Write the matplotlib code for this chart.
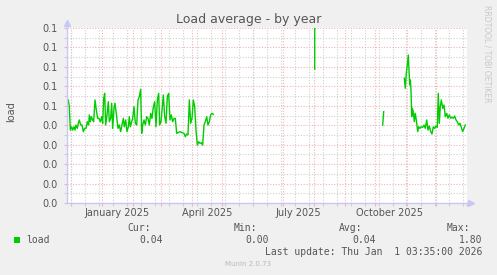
import matplotlib
matplotlib.use('Agg')
import matplotlib.pyplot as plt
import matplotlib.dates as mdates
from matplotlib.patches import Rectangle
import numpy as np
from datetime import datetime, timedelta

# ---------------- data ----------------
start = datetime(2024, 11, 27, 3, 35)
end = datetime(2026, 1, 1, 3, 35)

# days after `start`, load values
seg1_days = [0.33, 1.33, 2.33, 3.33, 4.67, 5.67, 7, 8, 9, 10.33, 11.33, 12.33, 13.67, 15, 16.33,
             17.67, 19, 20.33, 21.67, 22.33, 23.33, 24.33, 25.67, 26.67, 28, 29.33, 30.67, 32,
             33.33, 34.67, 35.67, 36.67, 37.67, 38.67, 40, 41.33, 42.33, 43.67, 44.67, 45.67, 47,
             48, 49.67, 51, 52.33, 53.67, 55, 56.33, 57.33, 58.67, 60, 61.33, 62.33, 63.33, 64.67,
             65.67, 67, 68.33, 69.67, 71, 72.33, 73.67, 74.67, 75.67, 77, 78.33, 79.67, 81, 82.33,
             83.67, 85, 86.33, 87.67, 89, 90.33, 91.67, 92.67, 94, 95, 96.33, 97.67, 99, 100.33,
             101.67, 103, 104.33, 105.67, 107, 108.33, 109.67, 111, 113, 115, 117, 118.33, 119.67,
             121, 122.33, 123.67, 125, 126.33, 127.67, 129, 130.33, 131.67, 133, 134.33, 135.67,
             137, 138.33, 139.67, 141, 142.33, 143.67, 145, 146.33]
seg1_load = [0.0513, 0.0530, 0.0495, 0.0375, 0.0392, 0.0375, 0.0392, 0.0375, 0.0401, 0.0384,
             0.0410, 0.0427, 0.0401, 0.0401, 0.0367, 0.0384, 0.0384, 0.0418, 0.0401, 0.0453,
             0.0418, 0.0444, 0.0427, 0.0418, 0.0530, 0.0478, 0.0435, 0.0435, 0.0418, 0.0444,
             0.0410, 0.0538, 0.0564, 0.0401, 0.0453, 0.0521, 0.0418, 0.0435, 0.0513, 0.0384,
             0.0487, 0.0513, 0.0444, 0.0384, 0.0401, 0.0367, 0.0401, 0.0435, 0.0392, 0.0427,
             0.0367, 0.0392, 0.0444, 0.0392, 0.0418, 0.0435, 0.0495, 0.0410, 0.0401, 0.0530,
             0.0547, 0.0585, 0.0358, 0.0401, 0.0427, 0.0401, 0.0444, 0.0435, 0.0401, 0.0461,
             0.0435, 0.0495, 0.0521, 0.0392, 0.0530, 0.0564, 0.0401, 0.0418, 0.0478, 0.0555,
             0.0444, 0.0410, 0.0547, 0.0564, 0.0427, 0.0453, 0.0418, 0.0435, 0.0435, 0.0358,
             0.0362, 0.0367, 0.0362, 0.0358, 0.0341, 0.0355, 0.0350, 0.0530, 0.0410, 0.0435,
             0.0530, 0.0495, 0.0375, 0.0298, 0.0315, 0.0307, 0.0310, 0.0298, 0.0401, 0.0418,
             0.0444, 0.0401, 0.0418, 0.0453, 0.0461, 0.0456]

seg2_days = [247.3, 247.7]
seg2_load = [1.80, 0.0688]

seg3_days = [315.7, 316.7]
seg3_load = [0.0401, 0.0470]

seg4_days = [337.3, 338.3, 339.3, 340.3, 341.3, 342, 342.7, 343.3, 344, 344.7, 345.3, 346.3,
             347.3, 348.3, 349.3, 350.7, 351.7, 353, 354.3, 355.7, 357, 358.3, 359.7, 361,
             362.3, 363.7, 365, 366.3, 367.7, 369, 370.3, 371.3, 372.3, 373.3, 374.3, 375.7,
             377, 378.3, 379.7, 381, 382.3, 383.7, 385, 386.3, 387.7, 389, 390.3, 391.7, 393,
             394.3, 395.7, 397, 398.3]
seg4_load = [0.0641, 0.0590, 0.0667, 0.0710, 0.0761, 0.0684, 0.0607, 0.0633, 0.0581, 0.0444,
             0.0487, 0.0470, 0.0418, 0.0461, 0.0427, 0.0367, 0.0392, 0.0384, 0.0392, 0.0389,
             0.0401, 0.0384, 0.0427, 0.0375, 0.0396, 0.0367, 0.0355, 0.0392, 0.0384, 0.0396,
             0.0389, 0.0564, 0.0410, 0.0495, 0.0530, 0.0487, 0.0504, 0.0444, 0.0461, 0.0436,
             0.0453, 0.0436, 0.0441, 0.0436, 0.0447, 0.0427, 0.0418, 0.0401, 0.0410, 0.0389,
             0.0367, 0.0384, 0.0401]

ytick_values = [0.00, 0.01, 0.02, 0.03, 0.04, 0.05, 0.06, 0.07, 0.08, 0.09]
ytick_labels = ['0.0', '0.0', '0.0', '0.0', '0.0', '0.1', '0.1', '0.1', '0.1', '0.1']
ymax = 0.09

xlabel_texts = ['January 2025', 'April 2025', 'July 2025', 'October 2025']
xlabel_dates = [datetime(2025, 1, 16), datetime(2025, 4, 16), datetime(2025, 7, 16), datetime(2025, 10, 16)]

title = 'Load average - by year'
ylabel = 'load'
series_name = 'load'
stat_names = ['Cur:', 'Min:', 'Avg:', 'Max:']
stat_values = ['0.04', '0.00', '0.04', '1.80']
last_update = 'Last update: Thu Jan  1 03:35:00 2026'
footer = 'Munin 2.0.73'
side_text = 'RRDTOOL / TOBI OETIKER'

# ---------------- build series ----------------
def to_dates(days):
    return [start + timedelta(days=d) for d in days]

xs, ys = [], []
for d, v in [(seg1_days, seg1_load), (seg2_days, seg2_load), (seg3_days, seg3_load), (seg4_days, seg4_load)]:
    xs += to_dates(d) + [start + timedelta(days=d[-1] + 0.5)]
    ys += list(v) + [np.nan]

# ---------------- figure ----------------
W, H = 497, 275
fig = plt.figure(figsize=(W / 100, H / 100), dpi=100)
fig.patch.set_facecolor('#f0f0f0')

L, R, T, B = 67, 467, 28, 203
ax = fig.add_axes([L / W, 1 - B / H, (R - L) / W, (B - T) / H])
ax.set_facecolor('white')

green = '#00cc00'
major_c = '#f0b4b4'
minor_c = '#cfcfcf'
axis_c = '#c8c8f8'
text_c = '#555555'

ax.plot(xs, ys, color=green, lw=1.0, zorder=3)

ax.set_xlim(start, end)
ax.set_ylim(0, ymax)

# x grid: months major, 14-day minor
ax.xaxis.set_major_locator(mdates.MonthLocator())
ax.xaxis.set_minor_locator(mdates.RRuleLocator(mdates.rrulewrapper(mdates.WEEKLY, interval=2,
                                                                   dtstart=datetime(2024, 12, 8))))
ax.xaxis.set_major_formatter(plt.NullFormatter())
ax.set_yticks(ytick_values, ytick_labels)
ax.set_yticks(np.arange(0.005, ymax, 0.01), minor=True)

ax.grid(which='major', color=major_c, lw=0.8, ls=(0, (1, 1.5)), zorder=1)
ax.grid(which='minor', color=minor_c, lw=0.8, ls=(0, (1, 1.5)), zorder=0)
ax.set_axisbelow(True)

ax.tick_params(axis='both', which='major', length=2, width=0.8, color=major_c,
               labelsize=7, labelcolor=text_c)
ax.tick_params(axis='both', which='minor', length=2, width=0.8, color=minor_c)
ax.tick_params(axis='y', which='major', pad=5)

for s in ['top', 'right', 'left', 'bottom']:
    ax.spines[s].set_visible(False)

# axis lines with arrows
ax.plot([0, 0], [0, 1.03], transform=ax.transAxes, color=axis_c, lw=1, clip_on=False, zorder=4)
ax.plot([0, 1.01], [0, 0], transform=ax.transAxes, color=axis_c, lw=1, clip_on=False, zorder=4)
ax.plot([0], [1.03], transform=ax.transAxes, marker='^', ms=4.5, color=axis_c, clip_on=False, zorder=4)
ax.plot([1.01], [0], transform=ax.transAxes, marker='>', ms=4.5, color=axis_c, clip_on=False, zorder=4)

# x labels centred mid-month
for txt, d in zip(xlabel_texts, xlabel_dates):
    ax.annotate(txt, xy=(mdates.date2num(d), 0), xycoords=ax.get_xaxis_transform(),
                xytext=(0, -3.5), textcoords='offset points', ha='center', va='top',
                fontsize=7, color=text_c)

# title, ylabel, side text
fig.text(248.5 / W, 1 - 23 / H, title, ha='center', va='baseline', fontsize=9, color=text_c)
fig.text(11 / W, 1 - 112 / H, ylabel, ha='center', va='center', rotation=90, fontsize=7, color=text_c)
fig.text(487 / W, 1 - 5 / H, side_text, ha='center', va='top', rotation=270, fontsize=5.5, color='#c8c8c8')

# legend
mono = 'DejaVu Sans Mono'
fs = 7
fig.patches.append(Rectangle((14 / W, 1 - 243 / H), 6 / W, 6 / H, transform=fig.transFigure,
                             facecolor=green, edgecolor='none'))
fig.text(26.5 / W, 1 - 240 / H, series_name, family=mono, fontsize=fs, color=text_c, ha='left', va='center')
for name, val, xr_name, xr_val in zip(stat_names, stat_values,
                                     [150.5, 256.7, 362.7, 470], [162.7, 269.3, 375.7, 482.7]):
    fig.text(xr_name / W, 1 - 228 / H, name, family=mono, fontsize=fs, color=text_c, ha='right', va='center')
    fig.text(xr_val / W, 1 - 240 / H, val, family=mono, fontsize=fs, color=text_c, ha='right', va='center')
fig.text(482.7 / W, 1 - 252 / H, last_update, family=mono, fontsize=fs, color=text_c, ha='right', va='center')
fig.text(248 / W, 1 - 264 / H, footer, fontsize=5, color='#b8b8b8', ha='center', va='center')

fig.savefig('out.png', dpi=100, facecolor=fig.get_facecolor())
